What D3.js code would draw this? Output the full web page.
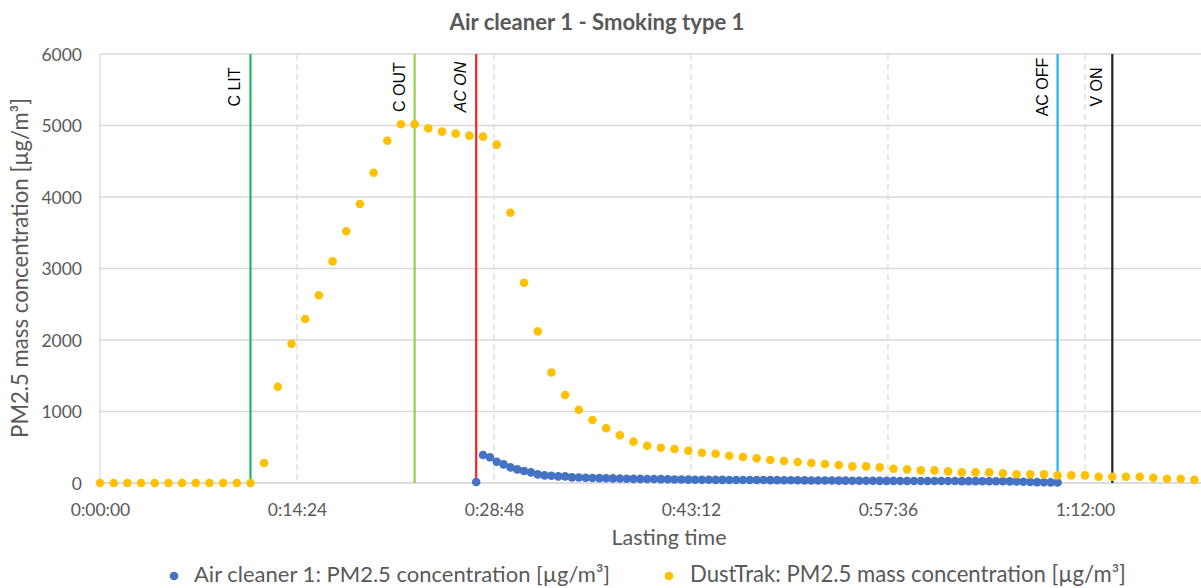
<!DOCTYPE html>
<html>
<head>
<meta charset="utf-8">
<script src="https://cdn.jsdelivr.net/npm/d3@7"></script>
<style>
  html, body { margin: 0; padding: 0; background: #fff; }
  svg { display: block; }
</style>
</head>
<body>
<svg id="chart" width="1201" height="588"></svg>
<script>
// ---------- DATA ----------
const chartTitle = "Air cleaner 1 - Smoking type 1";
const xAxisTitle = "Lasting time";
const yAxisTitle = "PM2.5 mass concentration [µg/m³]";
const seriesNames = ["Air cleaner 1: PM2.5 concentration [µg/m³]", "DustTrak: PM2.5 mass concentration [µg/m³]"];

// x ticks in seconds and their labels
const xTickValues = [0, 864, 1728, 2592, 3456, 4320];
const xTickLabels = ["0:00:00", "0:14:24", "0:28:48", "0:43:12", "0:57:36", "1:12:00"];
const yTickValues = [0, 1000, 2000, 3000, 4000, 5000, 6000];

// DustTrak: one reading every minute, from 0:00 to 1:20
const dustStepSec = 60;
const dustValues = [
  0, 0, 0, 0, 0, 0, 0, 0, 0, 0, 0, 0,
  280, 1345, 1948, 2294, 2625, 3100, 3520, 3902, 4340, 4787,
  5017, 5017, 4960, 4914, 4886, 4858, 4844, 4732, 3780, 2801,
  2121, 1546, 1231, 1025, 881, 765, 667, 578, 520, 494,
  476, 452, 424, 410, 382, 364, 345, 322, 308, 294,
  280, 266, 252, 233, 233, 219, 200, 191, 177, 177,
  163, 149, 149, 149, 135, 123, 121, 121, 107, 107,
  107, 88, 88, 88, 88, 74, 60, 60, 46
];

// Air cleaner 1: one reading every 30 s, from AC ON (1650 s) to AC OFF (4200 s)
const cleanerStartSec = 1650;
const cleanerStepSec = 30;
const cleanerValues = [
  15, 392, 359, 298, 261, 219, 191, 168, 149, 121, 107, 102, 93, 93, 79,
  76, 73, 70, 68, 66, 64, 62, 60, 58, 57,
  56, 55, 54, 52, 50, 48, 47, 46, 45, 45,
  44, 44, 43, 43, 42, 42, 41, 41, 40, 40,
  39, 39, 38, 37, 36, 35, 34, 34, 33, 33,
  32, 32, 31, 31, 30, 30, 30, 29, 29, 29,
  28, 28, 28, 27, 27, 27, 26, 26, 26, 25,
  25, 25, 24, 23, 21, 18, 15, 12, 10, 9, 8
];

// Event markers (seconds)
const eventLabels = ["C LIT", "C OUT", "AC ON", "AC OFF", "V ON"];
const eventTimes = [660, 1380, 1650, 4200, 4440];

// ---------- STYLE / LAYOUT ----------
const W = 1201, H = 588;
const plot = { left: 100, right: 1201, top: 54, bottom: 483 };
const eventColors = ["#20B463", "#92D050", "#FF2020", "#17B5EE", "#222222"];
const eventItalic = [false, false, true, false, false];
const blue = "#4472C4", yellow = "#FFC000";
const textGrey = "#595959";
const uiFont = "Lato, 'Open Sans', sans-serif";
const armFont = "'Liberation Sans', Arial, sans-serif";

const svg = d3.select("#chart");

const x = d3.scaleLinear().domain([0, 4829]).range([plot.left, plot.right]);
const y = d3.scaleLinear().domain([0, 6000]).range([plot.bottom, plot.top]);

function fit(sel, target) {
  const node = sel.node();
  const fs = parseFloat(sel.attr("font-size"));
  const len = node.getComputedTextLength();
  if (len > 0) sel.attr("font-size", (fs * target / len).toFixed(2));
  return sel;
}

// horizontal gridlines
svg.append("g").selectAll("line").data(yTickValues.filter(v => v > 0)).join("line")
  .attr("x1", plot.left).attr("x2", plot.right)
  .attr("y1", d => y(d)).attr("y2", d => y(d))
  .attr("stroke", "#D9D9D9").attr("stroke-width", 1.3);

// vertical dashed gridlines
svg.append("g").selectAll("line").data(xTickValues.filter(v => v > 0)).join("line")
  .attr("x1", d => x(d)).attr("x2", d => x(d))
  .attr("y1", plot.top).attr("y2", plot.bottom)
  .attr("stroke", "#D9D9D9").attr("stroke-width", 1.2)
  .attr("stroke-dasharray", "6,4");

// axes lines
svg.append("line").attr("x1", plot.left).attr("x2", plot.left)
  .attr("y1", plot.top).attr("y2", plot.bottom)
  .attr("stroke", "#D9D9D9").attr("stroke-width", 1.3);
svg.append("line").attr("x1", plot.left).attr("x2", plot.right)
  .attr("y1", y(0)).attr("y2", y(0))
  .attr("stroke", "#D0D0D0").attr("stroke-width", 1.3);

// y tick labels via d3 axis
const yAxis = svg.append("g").attr("transform", `translate(${plot.left - 18},0)`)
  .call(d3.axisLeft(y).tickValues(yTickValues).tickSize(0).tickPadding(0).tickFormat(d3.format("d")));
yAxis.select(".domain").remove();
yAxis.selectAll("text").attr("font-family", uiFont).attr("font-size", 17.5)
  .attr("fill", textGrey).attr("dy", "0.36em");

// x tick labels via d3 axis
const xAxis = svg.append("g").attr("transform", `translate(0,${plot.bottom})`)
  .call(d3.axisBottom(x).tickValues(xTickValues).tickSize(0).tickPadding(0)
    .tickFormat((d, i) => xTickLabels[i]));
xAxis.select(".domain").remove();
xAxis.selectAll("text").attr("font-family", uiFont).attr("font-size", 17.5)
  .attr("fill", textGrey).attr("dy", null).attr("y", 33);

// event lines
svg.append("g").selectAll("line").data(eventTimes).join("line")
  .attr("x1", d => x(d)).attr("x2", d => x(d))
  .attr("y1", plot.top).attr("y2", plot.bottom)
  .attr("stroke", (d, i) => eventColors[i]).attr("stroke-width", 2.2);

// event labels
svg.append("g").selectAll("text").data(eventTimes).join("text")
  .attr("transform", d => `translate(${x(d) - 10},87) rotate(-90)`)
  .attr("text-anchor", "middle")
  .attr("font-family", armFont).attr("font-size", 16)
  .attr("font-style", (d, i) => eventItalic[i] ? "italic" : "normal")
  .attr("fill", "#000")
  .text((d, i) => eventLabels[i]);

// data points
const cleanerData = cleanerValues.map((v, i) => ({ t: cleanerStartSec + i * cleanerStepSec, v }));
const dustData = dustValues.map((v, i) => ({ t: i * dustStepSec, v }));

svg.append("g").selectAll("circle").data(cleanerData).join("circle")
  .attr("cx", d => x(d.t)).attr("cy", d => y(d.v)).attr("r", 4.3)
  .attr("fill", blue);

svg.append("g").selectAll("circle").data(dustData).join("circle")
  .attr("cx", d => x(d.t)).attr("cy", d => y(d.v)).attr("r", 4.3)
  .attr("fill", yellow);

// title
const title = svg.append("text").attr("x", 597).attr("y", 30)
  .attr("text-anchor", "middle").attr("font-family", uiFont)
  .attr("font-weight", "bold").attr("font-size", 18).attr("fill", textGrey)
  .text(chartTitle);
fit(title, 295);

// x axis title
const xt = svg.append("text").attr("x", 669).attr("y", 545)
  .attr("text-anchor", "middle").attr("font-family", uiFont)
  .attr("font-size", 19).attr("fill", textGrey).text(xAxisTitle);
fit(xt, 115);

// y axis title
const yt = svg.append("text").attr("transform", "translate(28,268) rotate(-90)")
  .attr("text-anchor", "middle").attr("font-family", uiFont)
  .attr("font-size", 19).attr("fill", textGrey).text(yAxisTitle);
fit(yt, 340);

// legend
const legendItems = [
  { dot: 174, tx: 194, w: 416, color: blue },
  { dot: 669, tx: 690, w: 436, color: yellow }
];
const lg = svg.append("g");
legendItems.forEach((it, i) => {
  lg.append("circle").attr("cx", it.dot).attr("cy", 576).attr("r", 4.3).attr("fill", it.color);
  const t = lg.append("text").attr("x", it.tx).attr("y", 582)
    .attr("font-family", uiFont).attr("font-size", 19).attr("fill", textGrey)
    .text(seriesNames[i]);
  fit(t, it.w);
});
</script>
</body>
</html>
